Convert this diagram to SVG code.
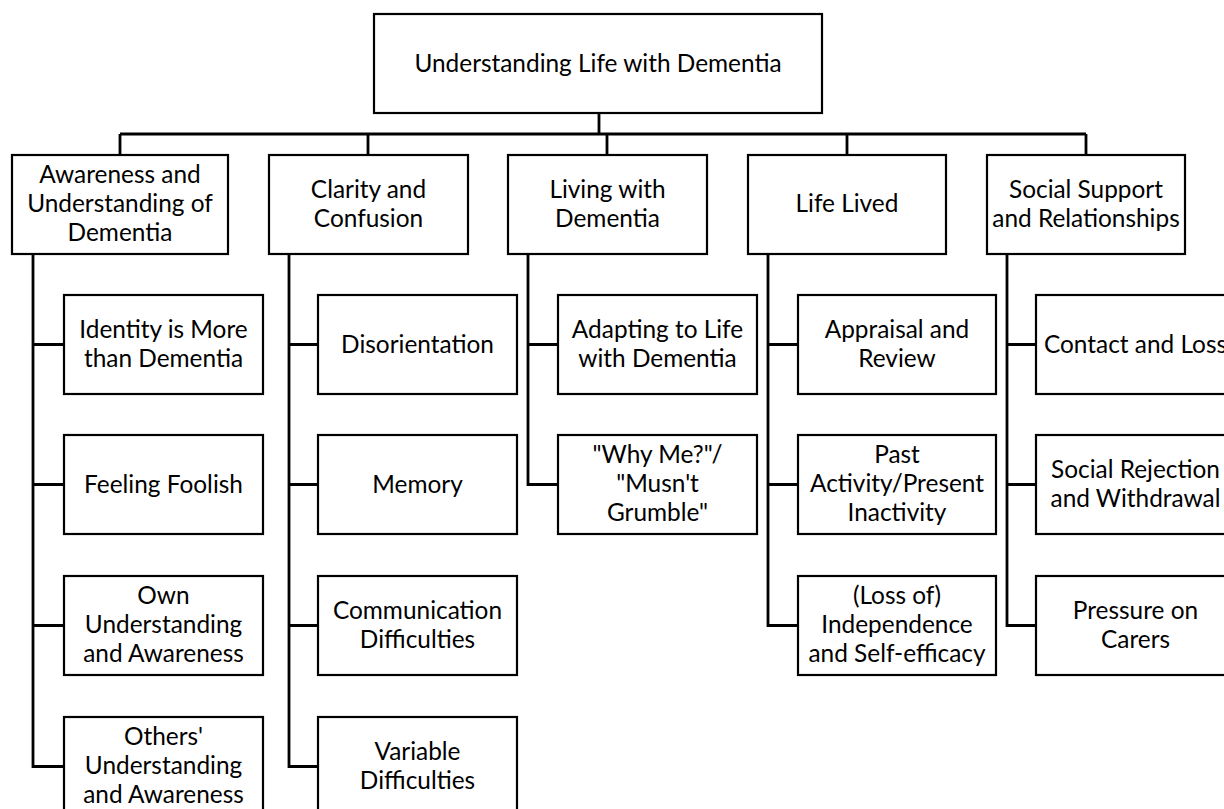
<svg xmlns="http://www.w3.org/2000/svg" width="1224" height="809" viewBox="0 0 1224 809">
<style>
.box{fill:#fff;stroke:#000;stroke-width:2.2}
.con{fill:none;stroke:#000;stroke-width:2.8}
text{font-family:Lato,"Open Sans",sans-serif;font-size:24.4px;fill:#000;text-anchor:middle}
</style>
<rect width="1224" height="809" fill="#fff"/>
<g id="connectors">
<path class="con" d="M599,113V134M120,134H1086M120,134V155M368,134V155M607,134V155M847,134V155M1086,134V155"/>
<path class="con" d="M33,254V766.5H64M33,344.5H64M33,484.5H64M33,625.5H64"/>
<path class="con" d="M289,254V766.5H318M289,344.5H318M289,484.5H318M289,625.5H318"/>
<path class="con" d="M528,254V484.5H558M528,344.5H558"/>
<path class="con" d="M768,254V625.5H798M768,344.5H798M768,484.5H798"/>
<path class="con" d="M1007,254V625.5H1036M1007,344.5H1036M1007,484.5H1036"/>
</g>
<g id="root"><rect class="box" x="374" y="14" width="448" height="99"/><text x="598" y="72">Understanding Life with Dementia</text></g>
<g id="awareness"><rect class="box" x="12" y="155" width="216" height="99"/><text x="120" y="183">Awareness and<tspan x="120" dy="29">Understanding of</tspan><tspan x="120" dy="29">Dementia</tspan></text></g>
<g id="clarity"><rect class="box" x="269" y="155" width="199" height="99"/><text x="368.5" y="197.5">Clarity and<tspan x="368.5" dy="29">Confusion</tspan></text></g>
<g id="living"><rect class="box" x="508" y="155" width="199" height="99"/><text x="607.5" y="197.5">Living with<tspan x="607.5" dy="29">Dementia</tspan></text></g>
<g id="lifelived"><rect class="box" x="748" y="155" width="198" height="99"/><text x="847" y="212">Life Lived</text></g>
<g id="social"><rect class="box" x="987" y="155" width="198" height="99"/><text x="1086" y="197.5">Social Support<tspan x="1086" dy="29">and Relationships</tspan></text></g>

<g id="identity"><rect class="box" x="64" y="295" width="199" height="99"/><text x="163.5" y="338">Identity is More<tspan x="163.5" dy="29">than Dementia</tspan></text></g>
<g id="foolish"><rect class="box" x="64" y="435" width="199" height="99"/><text x="163.5" y="493">Feeling Foolish</text></g>
<g id="own"><rect class="box" x="64" y="576" width="199" height="99"/><text x="163.5" y="604">Own<tspan x="163.5" dy="29">Understanding</tspan><tspan x="163.5" dy="29">and Awareness</tspan></text></g>
<g id="others"><rect class="box" x="64" y="717" width="199" height="99"/><text x="163.5" y="745">Others'<tspan x="163.5" dy="29">Understanding</tspan><tspan x="163.5" dy="29">and Awareness</tspan></text></g>

<g id="disorientation"><rect class="box" x="318" y="295" width="199" height="99"/><text x="417.5" y="353">Disorientation</text></g>
<g id="memory"><rect class="box" x="318" y="435" width="199" height="99"/><text x="417.5" y="493">Memory</text></g>
<g id="communication"><rect class="box" x="318" y="576" width="199" height="99"/><text x="417.5" y="619">Communication<tspan x="417.5" dy="29">Difficulties</tspan></text></g>
<g id="variable"><rect class="box" x="318" y="717" width="199" height="99"/><text x="417.5" y="760">Variable<tspan x="417.5" dy="29">Difficulties</tspan></text></g>

<g id="adapting"><rect class="box" x="558" y="295" width="199" height="99"/><text x="657.5" y="338">Adapting to Life<tspan x="657.5" dy="29">with Dementia</tspan></text></g>
<g id="whyme"><rect class="box" x="558" y="435" width="199" height="99"/><text x="657.5" y="463">"Why Me?"/<tspan x="657.5" dy="29">"Musn't</tspan><tspan x="657.5" dy="29">Grumble"</tspan></text></g>

<g id="appraisal"><rect class="box" x="798" y="295" width="198" height="99"/><text x="897" y="338">Appraisal and<tspan x="897" dy="29">Review</tspan></text></g>
<g id="past"><rect class="box" x="798" y="435" width="198" height="99"/><text x="897" y="463">Past<tspan x="897" dy="29">Activity/Present</tspan><tspan x="897" dy="29">Inactivity</tspan></text></g>
<g id="independence"><rect class="box" x="798" y="576" width="198" height="99"/><text x="897" y="604">(Loss of)<tspan x="897" dy="29">Independence</tspan><tspan x="897" dy="29">and Self-efficacy</tspan></text></g>

<g id="contact"><rect class="box" x="1036" y="295" width="199" height="99"/><text x="1135.5" y="353">Contact and Loss</text></g>
<g id="rejection"><rect class="box" x="1036" y="435" width="199" height="99"/><text x="1135.5" y="478">Social Rejection<tspan x="1135.5" dy="29">and Withdrawal</tspan></text></g>
<g id="pressure"><rect class="box" x="1036" y="576" width="199" height="99"/><text x="1135.5" y="619">Pressure on<tspan x="1135.5" dy="29">Carers</tspan></text></g>
</svg>
